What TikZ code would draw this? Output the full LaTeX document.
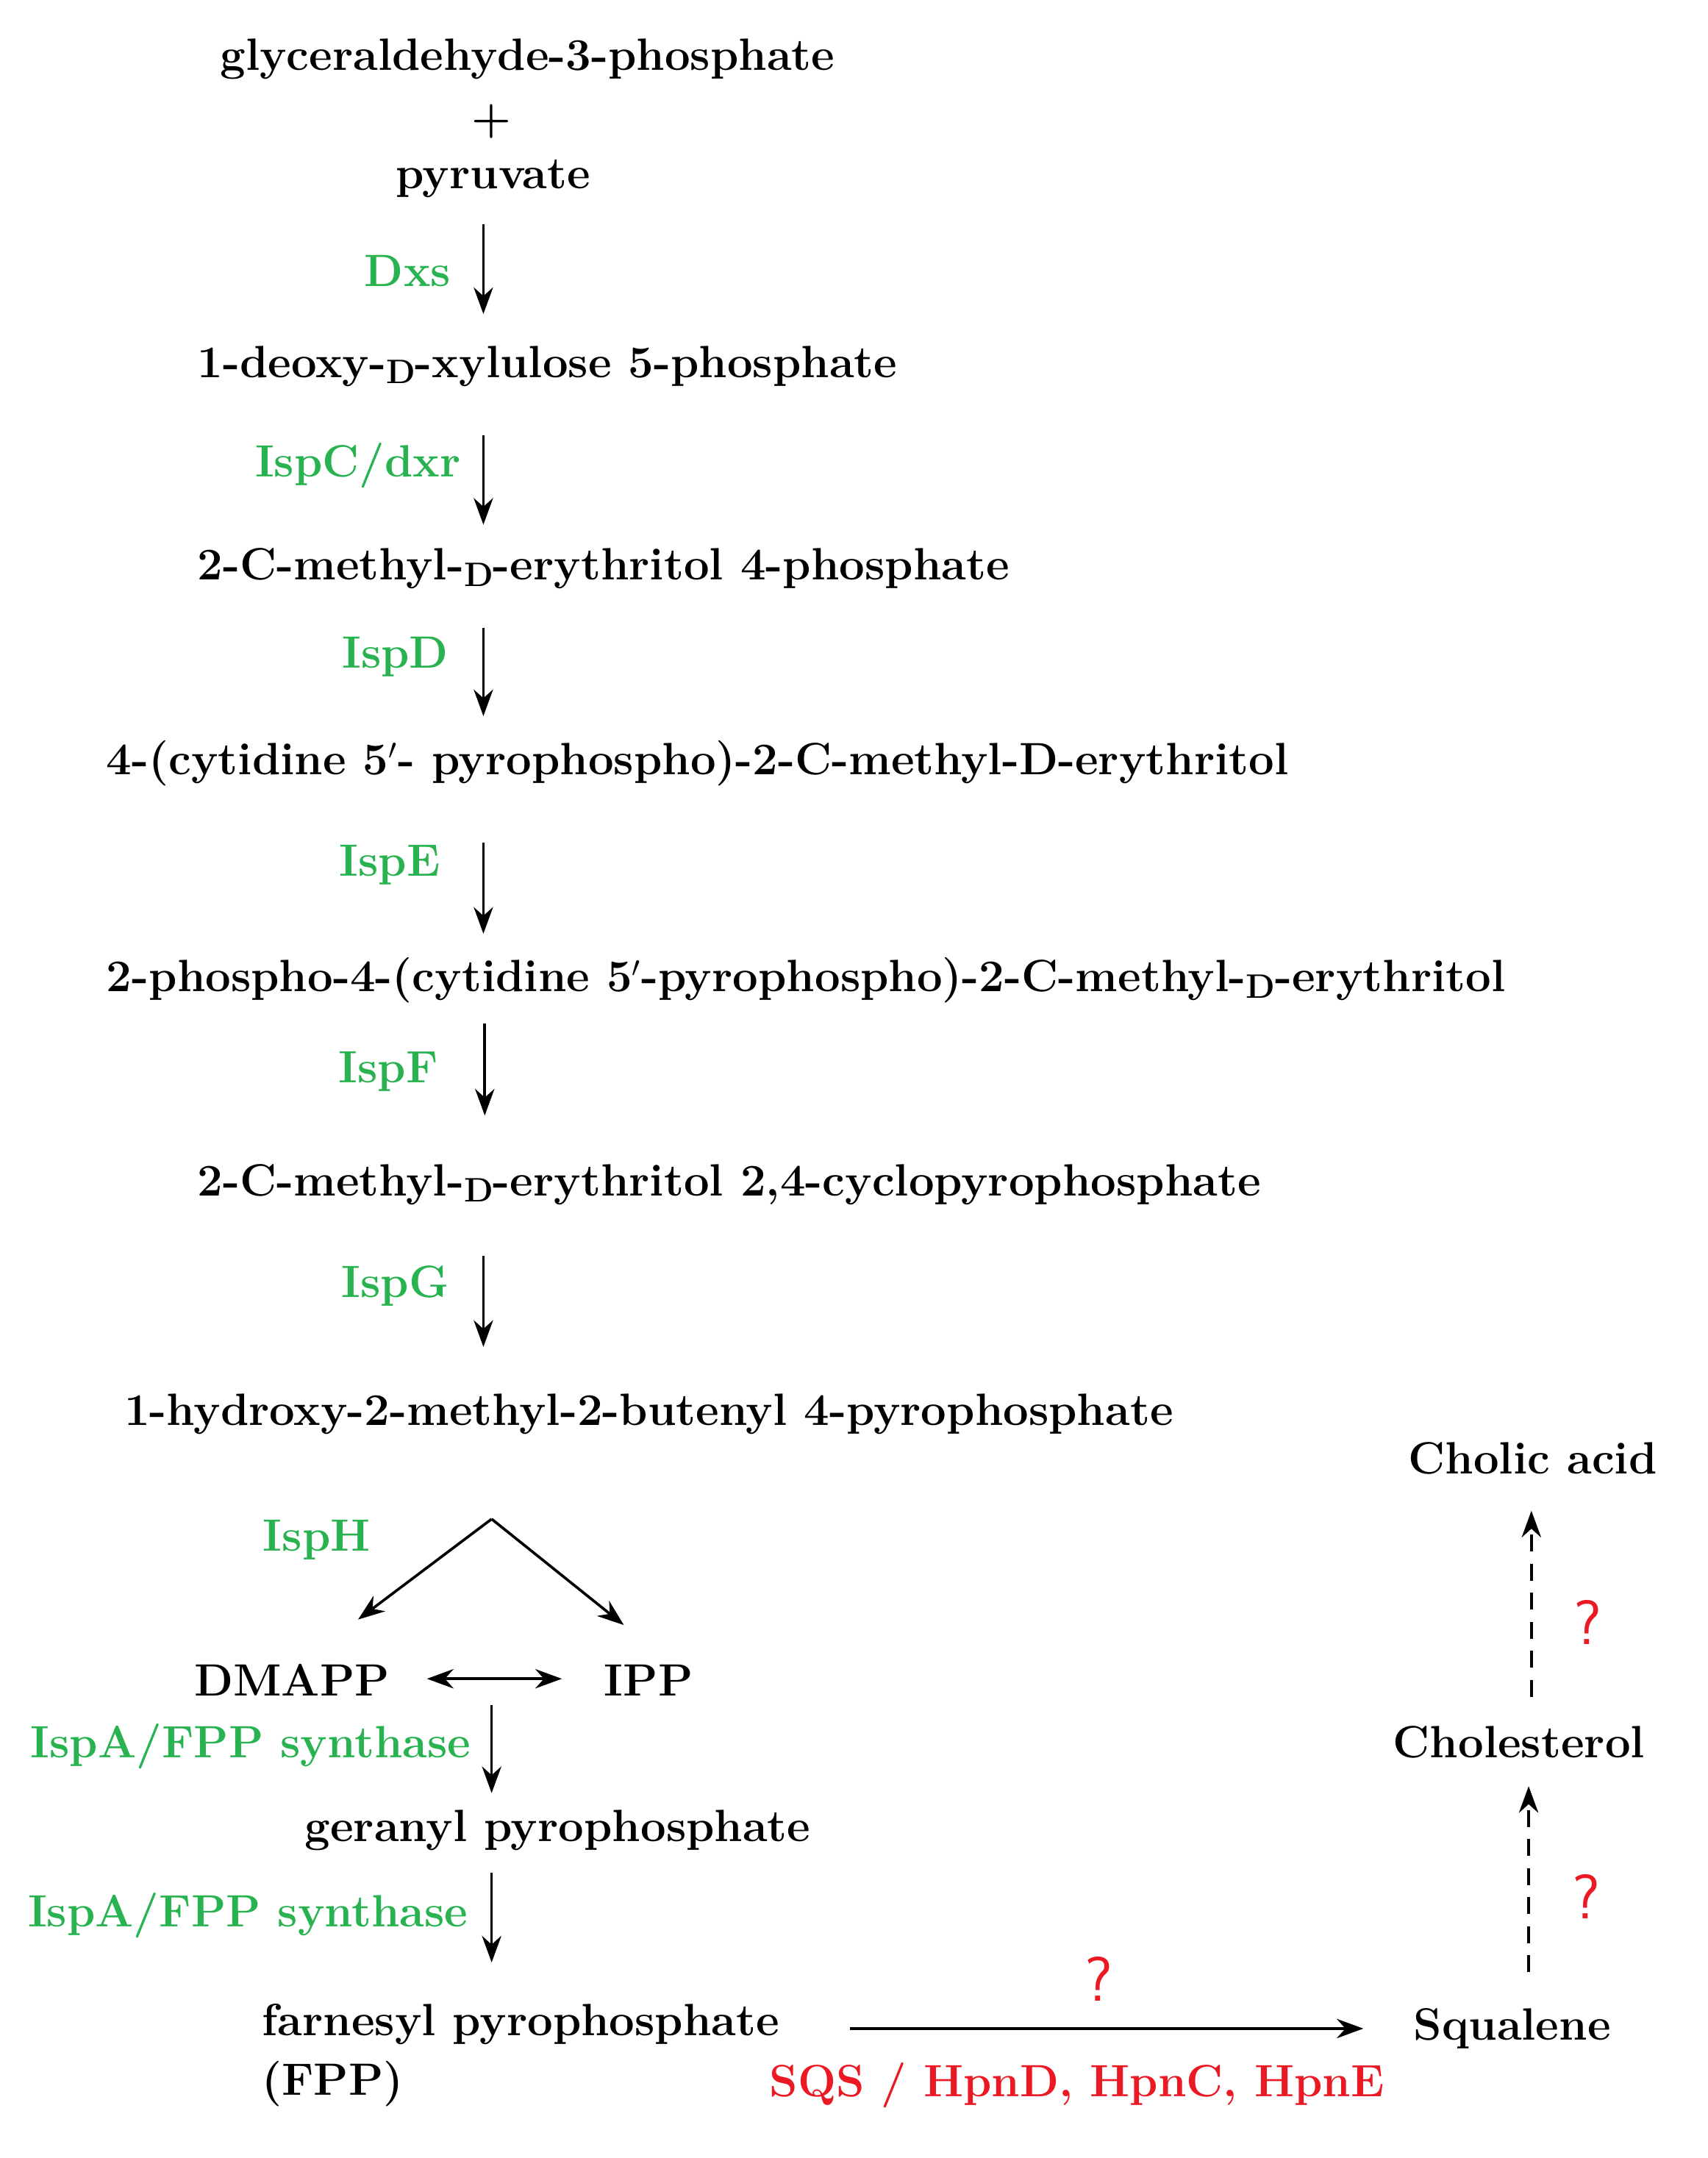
\documentclass[tikz,border=0pt]{standalone}
\usetikzlibrary{arrows.meta}
\definecolor{eg}{RGB}{40,178,80}
\definecolor{er}{RGB}{235,25,35}
\newcommand{\sD}{\raisebox{-0.3ex}{\fontsize{14}{14}\selectfont D}}
\begin{document}
\begin{tikzpicture}[x=0.02cm,y=-0.02cm,
  every node/.style={font=\fontsize{18.7}{21}\selectfont\bfseries,inner sep=0pt},
  t/.style={},
  enz/.style={text=eg},
  q/.style={text=er,font=\fontsize{26}{28}\selectfont\sffamily},
  arr/.style={line width=1.1pt,-{Stealth[length=11pt,width=8pt]}},
  darr/.style={arr,dashed,dash pattern=on 7pt off 5pt}]
\useasboundingbox (0,0) rectangle (1240,1567);
\node[t] (g3p) at (383,43) {glyceraldehyde-3-phosphate};
\node[t] (plus) at (357,88) {+};
\node[t] (pyr) at (358,130) {pyruvate};
\node[t,anchor=west] (dxp) at (143,266) {1-deoxy-\sD-xylulose 5-phosphate};
\node[t,anchor=west] (mep) at (143,413) {2-C-methyl-\sD-erythritol 4-phosphate};
\node[t,anchor=west] (cdp) at (77,554) {4-(cytidine 5$'$- pyrophospho)-2-C-methyl-D-erythritol};
\node[t,anchor=west] (cdpp) at (77,712) {2-phospho-4-(cytidine 5$'$-pyrophospho)-2-C-methyl-\sD-erythritol};
\node[t,anchor=west] (mecpp) at (143,860) {2-C-methyl-\sD-erythritol 2,4-cyclopyrophosphate};
\node[t,anchor=west] (hmbpp) at (90,1027) {1-hydroxy-2-methyl-2-butenyl 4-pyrophosphate};
\node[t] (dmapp) at (212,1220) {DMAPP};
\node[t] (ipp) at (471,1220) {IPP};
\node[t] (gpp) at (405,1329) {geranyl pyrophosphate};
\node[t,anchor=west] (fpp) at (190,1470) {farnesyl pyrophosphate};
\node[t,anchor=west] (fpp2) at (190,1513) {(FPP)};
\node[t] (sq) at (1098,1473) {Squalene};
\node[t] (chol) at (1103,1265) {Cholesterol};
\node[t] (cholic) at (1113,1059) {Cholic acid};
\node[enz] (e1) at (296,197) {Dxs};
\node[enz] (e2) at (260,338) {IspC/dxr};
\node[enz] (e3) at (287,477) {IspD};
\node[enz] (e4) at (283,628) {IspE};
\node[enz] (e5) at (282,778) {IspF};
\node[enz] (e6) at (287,934) {IspG};
\node[enz] (e7) at (230,1118) {IspH};
\node[enz] (e8) at (182,1268) {IspA/FPP synthase};
\node[enz] (e9) at (180,1391) {IspA/FPP synthase};
\node[text=er] (sqs) at (782,1514) {SQS / HpnD, HpnC, HpnE};
\node[q] (q1) at (798,1437) {?};
\node[q] (q2) at (1152,1377) {?};
\node[q] (q3) at (1153,1178) {?};
\foreach \i/\x/\a/\b in {1/351/163/228,2/351/316/381,3/351/456/520,4/351/612/678,5/352/743/810,6/351/912/978,8/357/1238/1302,9/357/1360/1425}{
  \coordinate (s\i) at (\x,\a); \coordinate (t\i) at (\x,\b);
  \draw[arr] (s\i) -- (t\i);}
\coordinate (apex) at (357,1103);
\coordinate (dm) at (260,1176);
\coordinate (ip) at (453,1180);
\draw[arr] (apex) -- (dm);
\draw[arr] (apex) -- (ip);
\coordinate (da) at (310,1219); \coordinate (db) at (408,1219);
\draw[arr,{Stealth[length=11pt,width=8pt]}-{Stealth[length=11pt,width=8pt]}] (da) -- (db);
\coordinate (fa) at (617,1473); \coordinate (fb) at (990,1473);
\draw[arr] (fa) -- (fb);
\coordinate (c1a) at (1110,1432); \coordinate (c1b) at (1110,1297);
\draw[darr] (c1a) -- (c1b);
\coordinate (c2a) at (1112,1232); \coordinate (c2b) at (1112,1097);
\draw[darr] (c2a) -- (c2b);
\end{tikzpicture}
\end{document}
